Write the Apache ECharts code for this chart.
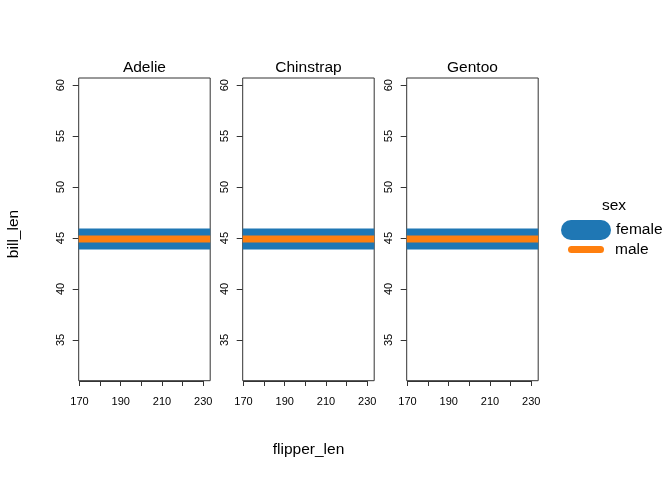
<!DOCTYPE html>
<html><head><meta charset="utf-8">
<script src="https://cdn.jsdelivr.net/npm/echarts@6/dist/echarts.min.js"></script>
<style>html,body{margin:0;padding:0;background:#fff}#c{width:672px;height:480px}</style>
</head><body><div id="c"></div>
<script>
// ---- data ----
const species = ['Adelie', 'Chinstrap', 'Gentoo'];
const sexes = ['female', 'male'];
const femaleLevel = [44.9, 44.9, 44.9];
const maleLevel = [44.9, 44.9, 44.9];
const xLimits = [169.64, 233.36];
const yLimits = [31.0, 60.7];
const xTickRange = [170, 230];
const xTickStep = 10;
const xLabelStep = 20;
const yTickRange = [35, 60];
const yTickStep = 5;
const xTitle = 'flipper_len';
const yTitle = 'bill_len';
const legendTitle = 'sex';

// ---- styling / layout ----
const FONT = 'Liberation Sans, Arial, sans-serif';
const sexColors = { female: '#1f77b4', male: '#ff7f0e' };
const sexWidths = { female: 21, male: 7 };
const panelLeft = [78.7, 242.7, 406.7];
const panelW = 131.5, panelTop = 78, panelH = 302.7;
const ink = '#333';

const grids = [], xAxes = [], yAxes = [], series = [], graphics = [];
const xs = panelW / (xLimits[1] - xLimits[0]);
const ys = panelH / (yLimits[1] - yLimits[0]);

species.forEach((sp, p) => {
  const L = panelLeft[p];
  grids.push({ left: L, top: panelTop, width: panelW, height: panelH, show: true,
    borderColor: ink, borderWidth: 1, backgroundColor: 'transparent' });
  xAxes.push({ gridIndex: 2 * p, type: 'value', min: xLimits[0], max: xLimits[1], show: false });
  yAxes.push({ gridIndex: 2 * p, type: 'value', min: yLimits[0], max: yLimits[1], show: false });
  const aLeft = L + (xTickRange[0] - xLimits[0]) * xs;
  const aW = (xTickRange[1] - xTickRange[0]) * xs;
  const aTop = panelTop + (yLimits[1] - yTickRange[1]) * ys;
  const aH = (yTickRange[1] - yTickRange[0]) * ys;
  grids.push({ left: aLeft, top: aTop, width: aW, height: aH, show: false });
  const bottomOffset = (panelTop + panelH) - (aTop + aH) + 0.3;
  xAxes.push({ gridIndex: 2 * p + 1, type: 'value', min: xTickRange[0], max: xTickRange[1],
    interval: xTickStep, offset: bottomOffset, splitLine: { show: false },
    axisLine: { show: true, lineStyle: { color: ink, width: 1 } },
    axisTick: { show: true, length: 5, lineStyle: { color: ink } },
    axisLabel: { fontSize: 11, color: '#000', fontFamily: FONT, margin: 15,
      formatter: v => ((v - xTickRange[0]) % xLabelStep === 0 ? String(v) : '') } });
  yAxes.push({ gridIndex: 2 * p + 1, type: 'value', min: yTickRange[0], max: yTickRange[1],
    interval: yTickStep, offset: aLeft - L, splitLine: { show: false },
    axisLine: { show: false },
    axisTick: { show: true, length: 6, lineStyle: { color: ink } },
    axisLabel: { fontSize: 11, color: '#000', fontFamily: FONT, rotate: 90, margin: 12 } });
  graphics.push({ type: 'text', x: L + panelW / 2, y: 68,
    style: { text: sp, fontSize: 15.5, fontFamily: FONT, fill: '#000', align: 'center', verticalAlign: 'middle' } });
});

const levels = { female: femaleLevel, male: maleLevel };
sexes.forEach(s => {
  species.forEach((sp, p) => {
    series.push({ type: 'line', name: s, xAxisIndex: 2 * p, yAxisIndex: 2 * p,
      data: [[xLimits[0], levels[s][p]], [xLimits[1], levels[s][p]]],
      symbol: 'none', showSymbol: false, clip: true, silent: true,
      itemStyle: { color: sexColors[s] },
      lineStyle: { color: sexColors[s], width: sexWidths[s], cap: 'butt' } });
  });
});

graphics.push({ type: 'text', x: 308.5, y: 450,
  style: { text: xTitle, fontSize: 15.5, fontFamily: FONT, fill: '#000', align: 'center', verticalAlign: 'middle' } });
graphics.push({ type: 'text', x: 13.5, y: 234, rotation: Math.PI / 2,
  style: { text: yTitle, fontSize: 15.5, fontFamily: FONT, fill: '#000', align: 'center', verticalAlign: 'middle' } });
graphics.push({ type: 'text', x: 614, y: 206,
  style: { text: legendTitle, fontSize: 15.5, fontFamily: FONT, fill: '#000', align: 'center', verticalAlign: 'middle' } });

const pillBig = 'path://M10,0 L40,0 A10,10 0 0 1 40,20 L10,20 A10,10 0 0 1 10,0 Z';
const pillSmall = 'path://M3.5,0 L32.5,0 A3.5,3.5 0 0 1 32.5,7 L3.5,7 A3.5,3.5 0 0 1 3.5,0 Z';

const chart = echarts.init(document.getElementById('c'), null, { renderer: 'canvas' });
chart.setOption({
  animation: false,
  backgroundColor: '#fff',
  grid: grids, xAxis: xAxes, yAxis: yAxes, series: series,
  legend: [
    { data: [{ name: sexes[0], icon: pillBig }], left: 561, top: 220, itemWidth: 50, itemHeight: 21,
      padding: 0, selectedMode: false, itemStyle: { borderWidth: 0 },
      textStyle: { fontSize: 15.5, color: '#000', fontFamily: FONT } },
    { data: [{ name: sexes[1], icon: pillSmall }], left: 568, top: 241.5, itemWidth: 36, itemHeight: 7,
      padding: 0, selectedMode: false, itemStyle: { borderWidth: 0 },
      textStyle: { fontSize: 15.5, color: '#000', fontFamily: FONT, padding: [0, 0, 0, 6] } }
  ],
  graphic: graphics
});
</script></body></html>
